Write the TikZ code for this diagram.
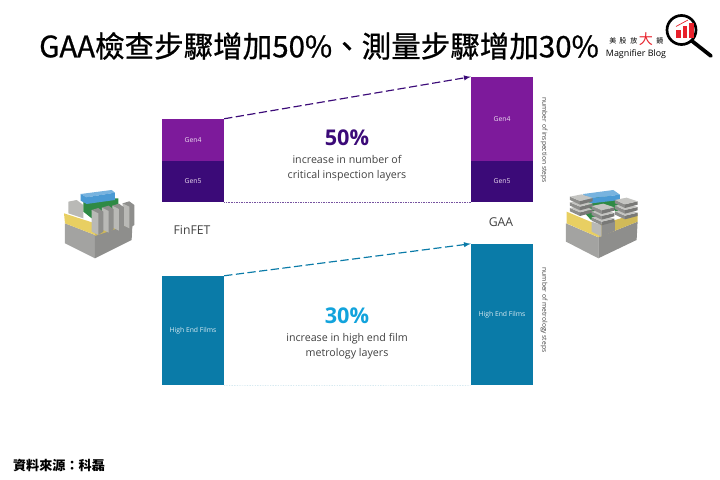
\documentclass[tikz,border=0pt]{standalone}
\usepackage{fontspec}
\setmainfont{Open Sans}
\newfontfamily\cjkfont{Noto Sans CJK TC}
\newfontfamily\cjkmedium[FakeBold=0.8]{Noto Sans CJK TC}
\definecolor{gen4col}{HTML}{7D1A9B}
\definecolor{gen5col}{HTML}{3B0A78}
\definecolor{filmcol}{HTML}{0A7BA8}
\definecolor{pctblue}{HTML}{12A3DC}
\definecolor{txtgray}{HTML}{404040}
\definecolor{logored}{HTML}{E8212B}
\definecolor{finyellow}{HTML}{E8CF62}
\definecolor{fingray}{HTML}{8E8E8C}
\definecolor{fintop}{HTML}{B9B9B6}
\definecolor{basegray}{HTML}{A3A3A1}
\definecolor{gateblue}{HTML}{4A9AD4}
\definecolor{gategreen}{HTML}{2F8A45}
\begin{document}
\begin{tikzpicture}[x=0.03cm,y=-0.03cm]
\tikzstyle{bar_box} = [rectangle, minimum width=1.86cm, inner sep=0pt, text=white!85!gen4col, font=\fontsize{5.8}{6}\selectfont, text centered]
\tikzstyle{pct_label} = [font=\fontsize{18.5}{20}\selectfont\bfseries]
\tikzstyle{info_label} = [align=center, text=txtgray, font=\fontsize{9.1}{12.8}\selectfont]
\tikzstyle{axis_label} = [rotate=-90, text=txtgray, font=\fontsize{5.7}{6}\selectfont]
\tikzstyle{tech_label} = [text=txtgray, font=\fontsize{10.4}{12}\selectfont]
\tikzstyle{step_arrow} = [->, >=latex, dash pattern=on 7pt off 3pt, line width=1pt]
\useasboundingbox (0,0) rectangle (720,480);

% Title and source
\node[font=\cjkmedium\fontsize{25.2}{28}\selectfont, inner sep=0pt] (title) at (319,46) {GAA檢查步驟增加50\%、測量步驟增加30\%};
\node[font=\cjkfont\bfseries\fontsize{11.2}{13}\selectfont, inner sep=0pt] (source) at (59,465) {資料來源：科磊};

% Logo
\node[font=\cjkfont\fontsize{6}{7}\selectfont, inner sep=0pt] (logoa) at (613,41) {美};
\node[font=\cjkfont\fontsize{6}{7}\selectfont, inner sep=0pt] (logob) at (623,41) {股};
\node[font=\cjkfont\fontsize{6}{7}\selectfont, inner sep=0pt] (logoc) at (634,41) {放};
\node[font=\cjkfont\fontsize{12}{13}\selectfont, text=logored, inner sep=0pt] (logod) at (646,39) {大};
\node[font=\cjkfont\fontsize{6}{7}\selectfont, inner sep=0pt] (logoe) at (660,41) {鏡};
\node[font=\fontsize{7.6}{9}\selectfont, inner sep=0pt] (logotext) at (636,54) {Magnifier Blog};
\draw[line width=2.3pt] (681.5,30) circle (14.5);
\draw[line width=3.2pt, line cap=round] (692,41) -- (711,56);
\fill[logored] (676,30) rectangle (680.5,38.5);
\fill[logored] (682.5,26.5) rectangle (687,38.5);
\fill[logored] (689,23) rectangle (693.5,38.5);
\draw[logored, line width=0.6pt] (676,26.5) -- (688,20);

% Inspection bars
\node[bar_box, minimum height=1.26cm, fill=gen4col] (gen4a) at (193,140) {Gen4};
\node[bar_box, minimum height=1.23cm, fill=gen5col] (gen5a) at (193,181.5) {Gen5};
\node[bar_box, minimum height=2.52cm, fill=gen4col] (gen4b) at (502,119) {Gen4};
\node[bar_box, minimum height=1.23cm, fill=gen5col] (gen5b) at (502,181.5) {Gen5};
\draw[step_arrow, gen5col] (gen4a.north east) -- (gen4b.north west);
\draw[densely dotted, gen5col!70] (gen5a.south east) -- (gen5b.south west);

% Metrology bars
\node[bar_box, minimum height=3.27cm, fill=filmcol, text=white!85!filmcol] (filma) at (193,330.5) {High End Films};
\node[bar_box, minimum height=4.23cm, fill=filmcol, text=white!85!filmcol] (filmb) at (502,314.5) {High End Films};
\draw[step_arrow, filmcol] (filma.north east) -- (filmb.north west);
\draw[densely dotted, filmcol!70] (filma.south east) -- (filmb.south west);

% Center labels
\node[pct_label, text=gen5col] (pcta) at (347,138) {50\%};
\node[info_label] (infoa) at (347,168) {increase in number of\\critical inspection layers};
\node[pct_label, text=pctblue] (pctb) at (347,316) {30\%};
\node[info_label] (infob) at (347,346) {increase in high end film\\metrology layers};
\node[axis_label] (axisa) at (544,140) {number of inspection steps};
\node[axis_label] (axisb) at (544,310) {number of metrology steps};
\node[tech_label] (finfet) at (192,230) {FinFET};
\node[tech_label] (gaa) at (501,222) {GAA};

% FinFET device
\begin{scope}[shift={(50,180)}, x=0.01cm, y=-0.01cm]
\fill[basegray] (45,130) -- (135,165) -- (135,235) -- (45,190) -- cycle;
\fill[fingray] (135,165) -- (248,125) -- (245,180) -- (135,235) -- cycle;
\fill[finyellow!90!black] (135,130) -- (250,100) -- (248,130) -- (135,168) -- cycle;
\fill[finyellow] (42,100) -- (135,130) -- (135,165) -- (45,130) -- cycle;
\fill[fintop] (55,65) -- (80,60) -- (100,75) -- (100,115) -- (55,100) -- cycle;
\fill[gategreen] (100,55) -- (205,55) -- (205,95) -- (125,115) -- (100,95) -- cycle;
\fill[gateblue!75!white] (92,42) -- (185,30) -- (195,38) -- (110,52) -- cycle;
\fill[gateblue] (92,42) -- (110,52) -- (195,38) -- (195,60) -- (110,72) -- (92,62) -- cycle;
\foreach \xf/\yf in {93/-20, 62/-13, 31/-7, 0/0} {
  \fill[fingray] (\xf+125,\yf+90) -- (\xf+145,\yf+84) -- (\xf+160,\yf+95) -- (\xf+160,\yf+155) -- (\xf+145,\yf+165) -- cycle;
  \fill[fintop] (\xf+125,\yf+90) -- (\xf+145,\yf+100) -- (\xf+145,\yf+165) -- (\xf+125,\yf+155) -- cycle;
}
\end{scope}

% GAA device
\begin{scope}[shift={(555,180)}, x=0.01cm, y=-0.01cm]
\fill[basegray] (33,130) -- (130,172) -- (130,235) -- (33,185) -- cycle;
\fill[fingray] (130,172) -- (248,125) -- (245,180) -- (130,235) -- cycle;
\fill[finyellow] (35,95) -- (130,135) -- (130,172) -- (35,130) -- cycle;
\fill[finyellow!90!black] (130,135) -- (248,100) -- (248,125) -- (130,172) -- cycle;
\fill[gategreen] (90,50) -- (190,50) -- (190,105) -- (170,80) -- (108,120) -- (90,100) -- cycle;
\fill[gateblue!75!white] (85,42) -- (175,30) -- (195,44) -- (108,55) -- cycle;
\fill[gateblue] (85,42) -- (108,55) -- (195,44) -- (195,60) -- (110,70) -- (85,57) -- cycle;
\fill[fintop] (110,125) -- (140,135) -- (140,170) -- (110,155) -- cycle;
\fill[fingray] (140,135) -- (180,122) -- (180,152) -- (140,170) -- cycle;
\foreach \xs/\ys in {45/50, 180/60, 110/78} {
  \foreach \zs in {34,17,0} {
    \fill[fingray] (\xs,\ys+\zs) -- (\xs+30,\ys+13+\zs) -- (\xs+30,\ys+24+\zs) -- (\xs,\ys+10+\zs) -- cycle;
    \fill[fingray!85!black] (\xs+30,\ys+13+\zs) -- (\xs+68,\ys+4+\zs) -- (\xs+68,\ys+14+\zs) -- (\xs+30,\ys+24+\zs) -- cycle;
    \fill[fintop!85!white] (\xs,\ys+\zs) -- (\xs+35,\ys-7+\zs) -- (\xs+68,\ys+4+\zs) -- (\xs+30,\ys+13+\zs) -- cycle;
  }
}
\end{scope}
\end{tikzpicture}
\end{document}
